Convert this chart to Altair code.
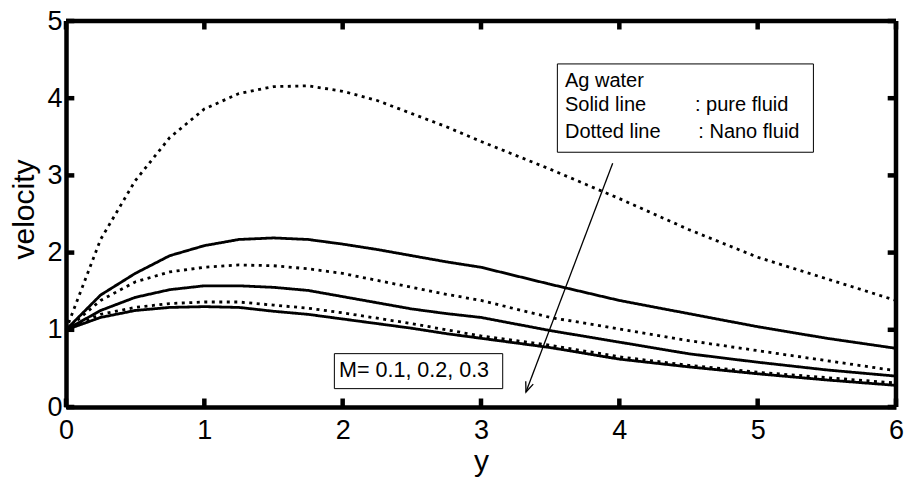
import altair as alt
import pandas as pd

# ---------------- data ----------------
y_pos = [0, 0.25, 0.5, 0.75, 1.0, 1.25, 1.5, 1.75, 2.0, 2.25, 2.5, 2.75,
         3.0, 3.5, 4.0, 4.5, 5.0, 5.5, 6.0]

nano_m01 = [1.0, 2.17, 2.93, 3.49, 3.86, 4.06, 4.15, 4.16, 4.09, 3.97, 3.80, 3.63,
            3.44, 3.08, 2.70, 2.30, 1.94, 1.66, 1.38]
pure_m01 = [1.0, 1.45, 1.73, 1.96, 2.09, 2.17, 2.19, 2.17, 2.11, 2.04, 1.96, 1.88,
            1.81, 1.59, 1.38, 1.21, 1.04, 0.89, 0.76]
nano_m02 = [1.0, 1.38, 1.62, 1.75, 1.81, 1.84, 1.83, 1.79, 1.73, 1.64, 1.55, 1.46,
            1.38, 1.16, 1.01, 0.86, 0.73, 0.60, 0.47]
pure_m02 = [1.0, 1.25, 1.42, 1.52, 1.57, 1.57, 1.55, 1.51, 1.43, 1.35, 1.27, 1.21,
            1.16, 0.99, 0.84, 0.69, 0.58, 0.48, 0.40]
nano_m03 = [1.0, 1.20, 1.29, 1.34, 1.36, 1.36, 1.32, 1.28, 1.22, 1.15, 1.08, 1.00,
            0.92, 0.80, 0.65, 0.54, 0.45, 0.38, 0.31]
pure_m03 = [1.0, 1.16, 1.25, 1.29, 1.30, 1.29, 1.24, 1.20, 1.14, 1.08, 1.02, 0.95,
            0.89, 0.77, 0.62, 0.52, 0.43, 0.35, 0.28]

series = {
    ("M=0.1 nano", "dotted"): nano_m01,
    ("M=0.1 pure", "solid"): pure_m01,
    ("M=0.2 nano", "dotted"): nano_m02,
    ("M=0.2 pure", "solid"): pure_m02,
    ("M=0.3 nano", "dotted"): nano_m03,
    ("M=0.3 pure", "solid"): pure_m03,
}

x_ticks = [0, 1, 2, 3, 4, 5, 6]
v_ticks = [0, 1, 2, 3, 4, 5]
X_MIN, X_MAX = 0, 6
V_MIN, V_MAX = 0, 5

# inward tick length, in data units of each axis
TICK_X = 0.06
TICK_V = 0.11

# annotation contents (in data units)
legend_box = {"x": 3.552, "x2": 5.403, "v": 4.444, "v2": 3.300}
legend_lines = ["Ag water", "Solid line", ": pure fluid", "Dotted line", ": Nano fluid"]
legend_x = [3.607, 3.607, 4.547, 3.607, 4.571]
legend_v = [4.150, 3.830, 3.830, 3.486, 3.486]

m_box = {"x": 1.940, "x2": 3.157, "v": 0.691, "v2": 0.238}
m_text = "M= 0.1, 0.2, 0.3"
m_text_x = 1.974
m_text_v = 0.388

arrow = {"x": 3.952, "v": 3.158, "x2": 3.325, "v2": 0.194}

FONT = "Liberation Sans, Arial, Helvetica, sans-serif"
INK = "#000000"

# ---------------- tables ----------------
rows = []
for (name, style), vals in series.items():
    for xv, vv in zip(y_pos, vals):
        rows.append({"y": xv, "velocity": vv, "series": name, "style": style})
df = pd.DataFrame(rows)

xs = alt.Scale(domain=[X_MIN, X_MAX], nice=False, zero=False)
vs = alt.Scale(domain=[V_MIN, V_MAX], nice=False, zero=False)

x_axis = alt.Axis(values=x_ticks, grid=False, domain=True, domainColor=INK,
                  domainWidth=4.5, ticks=False,
                  labelFontSize=27, labelPadding=10, labelFlush=False,
                  labelOverlap=False, labelColor=INK, labelFont=FONT,
                  title="y", titleFontSize=30, titleFont=FONT,
                  titleFontWeight="normal", titleColor=INK,
                  titleY=63, titleBaseline="alphabetic", format="d")
y_axis = alt.Axis(values=v_ticks, grid=False, domain=True, domainColor=INK,
                  domainWidth=4.5, ticks=False,
                  labelFontSize=27, labelPadding=4, labelFlush=False,
                  labelOverlap=False, labelColor=INK, labelFont=FONT,
                  title="velocity", titleFontSize=30, titleFont=FONT,
                  titleFontWeight="normal", titleColor=INK,
                  titleX=-33, titleY=188, titleBaseline="alphabetic", format="d")

lines = alt.Chart(df).mark_line(strokeWidth=2.8, color=INK, strokeCap="butt").encode(
    x=alt.X("y:Q", scale=xs, axis=x_axis),
    y=alt.Y("velocity:Q", scale=vs, axis=y_axis),
    detail="series:N",
    strokeDash=alt.StrokeDash("style:N",
                              scale=alt.Scale(domain=["solid", "dotted"],
                                              range=[[1, 0], [3, 4.5]]),
                              legend=None),
)

# frame (top and right edges; bottom/left come from the axis domains) + inward ticks
seg_rows = [
    {"x": X_MIN, "x2": X_MAX, "v": V_MAX, "v2": V_MAX},
    {"x": X_MAX, "x2": X_MAX, "v": V_MIN, "v2": V_MAX},
]
for t in x_ticks:
    seg_rows.append({"x": t, "x2": t, "v": V_MIN, "v2": V_MIN + TICK_V})
    seg_rows.append({"x": t, "x2": t, "v": V_MAX, "v2": V_MAX - TICK_V})
for t in v_ticks:
    seg_rows.append({"x": X_MIN, "x2": X_MIN + TICK_X, "v": t, "v2": t})
    seg_rows.append({"x": X_MAX, "x2": X_MAX - TICK_X, "v": t, "v2": t})
segments = alt.Chart(pd.DataFrame(seg_rows)).mark_rule(color=INK, strokeWidth=4.5).encode(
    x=alt.X("x:Q", scale=xs), x2="x2:Q",
    y=alt.Y("v:Q", scale=vs), y2="v2:Q")

box_df = pd.DataFrame([legend_box, m_box])
boxes = alt.Chart(box_df).mark_rect(fill="white", stroke=INK, strokeWidth=1).encode(
    x=alt.X("x:Q", scale=xs), x2="x2:Q",
    y=alt.Y("v:Q", scale=vs), y2="v2:Q")

leg_df = pd.DataFrame({"txt": legend_lines, "x": legend_x, "v": legend_v})
leg_text = alt.Chart(leg_df).mark_text(align="left", baseline="alphabetic",
                                       fontSize=20, font=FONT, color=INK).encode(
    x=alt.X("x:Q", scale=xs), y=alt.Y("v:Q", scale=vs), text="txt:N")

m_df = pd.DataFrame({"txt": [m_text], "x": [m_text_x], "v": [m_text_v]})
m_txt = alt.Chart(m_df).mark_text(align="left", baseline="alphabetic",
                                  fontSize=21.5, font=FONT, color=INK).encode(
    x=alt.X("x:Q", scale=xs), y=alt.Y("v:Q", scale=vs), text="txt:N")

arr_df = pd.DataFrame([arrow])
arrow_line = alt.Chart(arr_df).mark_rule(strokeWidth=1.3, color=INK).encode(
    x=alt.X("x:Q", scale=xs), x2="x2:Q",
    y=alt.Y("v:Q", scale=vs), y2="v2:Q")
arrow_head = alt.Chart(arr_df).mark_point(
    shape="M -0.4 -1 L 0 0 L 0.4 -1", size=400, filled=False,
    stroke=INK, strokeWidth=1.3, angle=20.7, opacity=1).encode(
    x=alt.X("x2:Q", scale=xs), y=alt.Y("v2:Q", scale=vs))

chart = alt.layer(
    lines, boxes, leg_text, m_txt, arrow_line, arrow_head, segments
).properties(
    width=830, height=386,
    autosize=alt.AutoSizeParams(type="none"),
    padding={"left": 66, "top": 21, "right": 10, "bottom": 72},
    background="white",
).configure_view(strokeWidth=0)

chart.save("out.html", embed_options={"renderer": "svg", "actions": False})
